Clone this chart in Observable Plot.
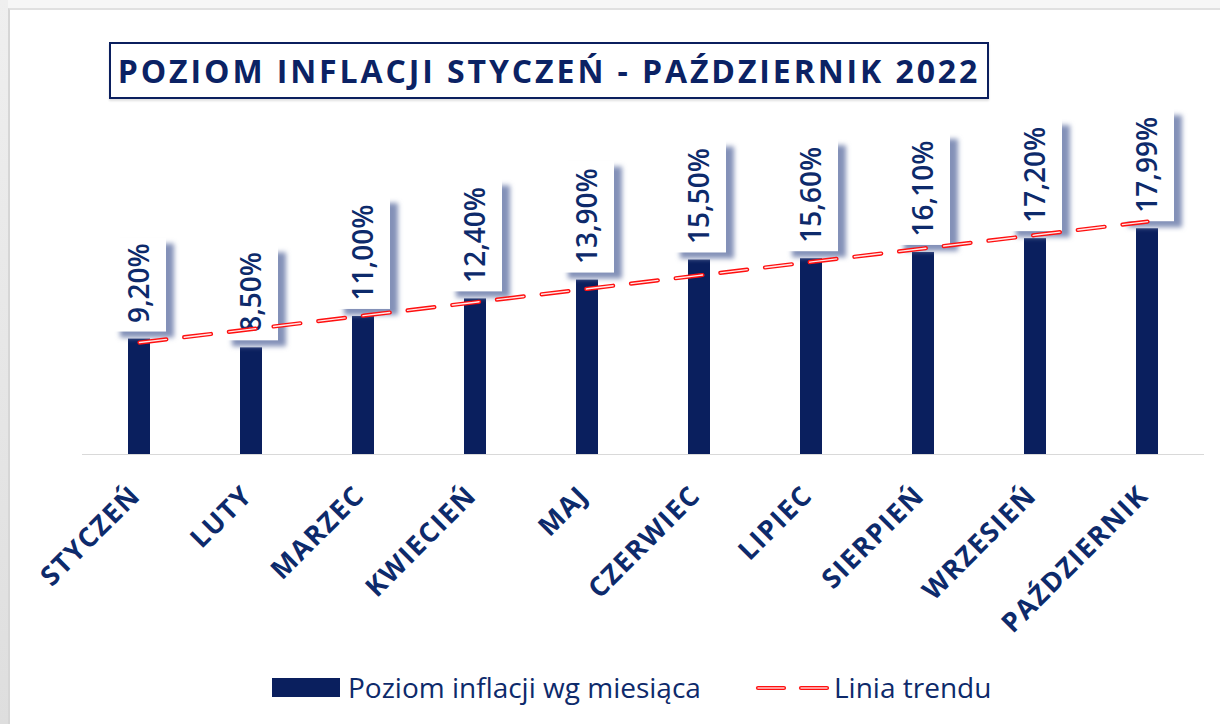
<!DOCTYPE html>
<html>
<head>
<meta charset="utf-8">
<script src="https://cdn.jsdelivr.net/npm/d3@7"></script>
<script src="https://cdn.jsdelivr.net/npm/@observablehq/plot@0.6"></script>
<style>
  html, body { margin:0; padding:0; width:1220px; height:724px; overflow:hidden; background:#f6f6f6; font-family:"Open Sans", sans-serif; }
  #strip { position:absolute; left:0; top:0; width:8px; height:724px; background:linear-gradient(#efefef,#dedede); }
  #panel { position:absolute; left:8px; top:8px; right:0; bottom:0; background:#fff; border-left:2px solid #d6d6d6; border-top:2px solid #e0e0e0; }
  #title { position:absolute; left:109px; top:42px; width:880px; height:57px; box-sizing:border-box; border:2px solid #0b1f5e; background:#fff;
           display:flex; align-items:center; justify-content:center; color:#0b2264; font-weight:700; font-size:32px; letter-spacing:2.9px;
           box-shadow:0 2px 2px rgba(0,0,0,0.12); white-space:nowrap; }
  #chart { position:absolute; left:0; top:100px; }
  .leg-text { position:absolute; top:673px; font-size:28px; line-height:28px; color:#0d2a6b; white-space:nowrap; }
</style>
</head>
<body>
<div id="strip"></div>
<div id="panel"></div>
<div id="title">POZIOM INFLACJI STYCZEŃ - PAŹDZIERNIK 2022</div>
<div id="chart"></div>
<div id="legend"></div>
<script>
// ---- data ----
const months = ["STYCZEŃ","LUTY","MARZEC","KWIECIEŃ","MAJ","CZERWIEC","LIPIEC","SIERPIEŃ","WRZESIEŃ","PAŹDZIERNIK"];
const values = [9.20, 8.50, 11.00, 12.40, 13.90, 15.50, 15.60, 16.10, 17.20, 17.99];
const labels = ["9,20%","8,50%","11,00%","12,40%","13,90%","15,50%","15,60%","16,10%","17,20%","17,99%"];
const seriesNames = ["Poziom inflacji wg miesiąca", "Linia trendu"];

// least-squares trend line derived from the values
const mx = d3.mean(values, (_, i) => i), my = d3.mean(values);
const slope = d3.sum(values, (v, i) => (i - mx) * (v - my)) / d3.sum(values, (_, i) => (i - mx) ** 2);
const intercept = my - slope * mx;

const data = months.map((m, i) => ({month: m, value: values[i], label: labels[i], trend: intercept + slope * i}));

const navy = "#0a1f5e";
const textNavy = "#0d2a6b";
const boxGap = 7;
const short = data.filter(d => d.label.length <= 5);
const long = data.filter(d => d.label.length > 5);
const boxOpts = (h) => ({x: "month", y1: "value", y2: "value", insetTop: -(boxGap + h), insetBottom: boxGap, insetLeft: -16, insetRight: -16});

const chart = Plot.plot({
  width: 1220,
  height: 560,
  marginLeft: 82,
  marginRight: 16,
  marginTop: 103,
  marginBottom: 206,
  x: {domain: months, paddingInner: 0.8, paddingOuter: 0.4, axis: null},
  y: {domain: [0, 20], axis: null},
  style: {background: "transparent", overflow: "visible", fontFamily: "Open Sans"},
  marks: [
    Plot.ruleY([0], {stroke: "#d9d9d9", strokeWidth: 1.2}),
    Plot.barY(data, {x: "month", y: "value", fill: navy}),
    Plot.barY(short, {...boxOpts(94), dx: 8, dy: 6, fill: "#8391b8"}),
    Plot.barY(long, {...boxOpts(112), dx: 8, dy: 6, fill: "#8391b8"}),
    Plot.barY(short, {...boxOpts(94), fill: "#ffffff"}),
    Plot.barY(long, {...boxOpts(112), fill: "#ffffff"}),
    Plot.text(data, {x: "month", y: "value", text: "label", rotate: -90, textAnchor: "start", dy: -16, dx: 1,
                     fill: textNavy, fontSize: 28, fontWeight: 600}),
    Plot.line(data, {x: "month", y: "trend", stroke: "#ff1010", strokeWidth: 4.2, strokeDasharray: "27 18", strokeLinecap: "round"}),
    Plot.line(data, {x: "month", y: "trend", stroke: "#ffe8e8", strokeWidth: 1.4, strokeDasharray: "27 18", strokeLinecap: "round"}),
    Plot.text(data, {x: "month", frameAnchor: "bottom", text: "month", rotate: -45, textAnchor: "end", lineAnchor: "top",
                     dx: -11, dy: 29, fill: textNavy, fontSize: 27, fontWeight: "bold"})
  ]
});
document.getElementById("chart").appendChild(chart);

// soft drop shadow for the label boxes, letter spacing for the month labels
d3.select(chart).insert("defs", ":first-child").html(
  `<filter id="lblShadow" x="-50%" y="-50%" width="200%" height="200%"><feGaussianBlur stdDeviation="2.5"/></filter>`);
const barGroups = chart.querySelectorAll('g[aria-label="bar"]');
barGroups[1].setAttribute("filter", "url(#lblShadow)");
barGroups[2].setAttribute("filter", "url(#lblShadow)");
const textGroups = chart.querySelectorAll('g[aria-label="text"]');
textGroups[1].setAttribute("letter-spacing", "1.5");

// ---- legend ----
const legend = document.getElementById("legend");
legend.innerHTML = `
  <div style="position:absolute;left:272px;top:678px;width:68px;height:19px;background:${navy}"></div>
  <div class="leg-text" style="left:348px">${seriesNames[0]}</div>
  <svg style="position:absolute;left:750px;top:678px" width="84" height="20">
    <g stroke-linecap="round">
      <line x1="8" y1="10" x2="34" y2="10" stroke="#ff1010" stroke-width="4.2"/>
      <line x1="51" y1="10" x2="77" y2="10" stroke="#ff1010" stroke-width="4.2"/>
      <line x1="8" y1="10" x2="34" y2="10" stroke="#ffc8c8" stroke-width="1.4"/>
      <line x1="51" y1="10" x2="77" y2="10" stroke="#ffc8c8" stroke-width="1.4"/>
    </g>
  </svg>
  <div class="leg-text" style="left:834px">${seriesNames[1]}</div>
`;
</script>
</body>
</html>
